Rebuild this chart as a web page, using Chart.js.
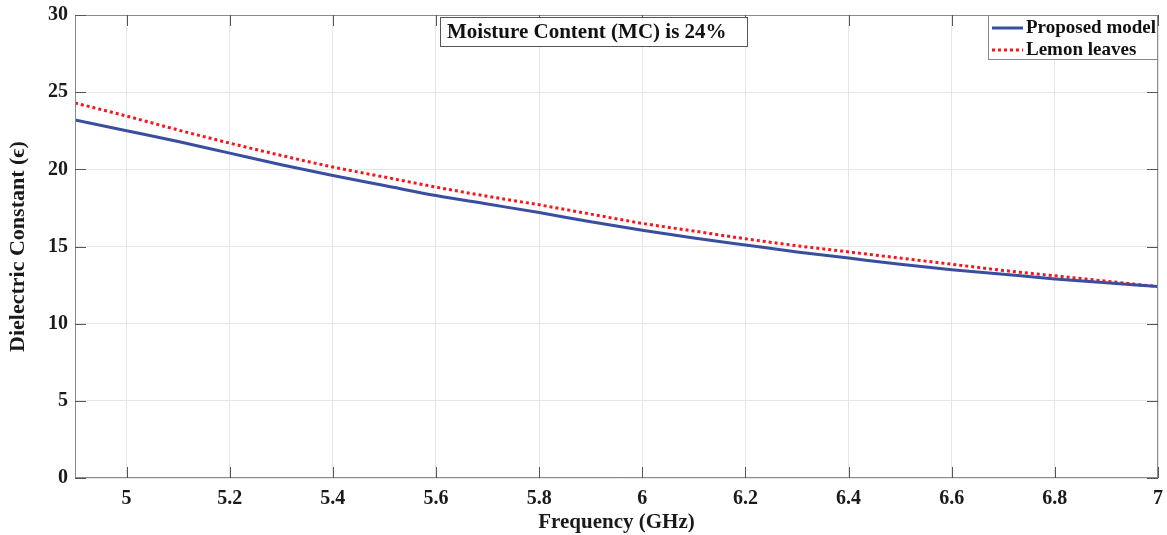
<!DOCTYPE html>
<html><head><meta charset="utf-8">
<script src="https://cdn.jsdelivr.net/npm/chart.js@4.4.0/dist/chart.umd.min.js"></script>
<style>html,body{margin:0;padding:0;background:#fff}#wrap{width:1167px;height:535px}</style>
</head><body><div id="wrap"><canvas id="c" width="1167" height="535"></canvas></div>
<script>
const frequency = [4.9,5.0,5.1,5.2,5.3,5.4,5.5,5.6,5.7,5.8,5.9,6.0,6.1,6.2,6.3,6.4,6.5,6.6,6.7,6.8,6.9,7.0];
const proposedModel = [23.2,22.5,21.8,21.05,20.3,19.6,18.95,18.3,17.75,17.2,16.6,16.05,15.55,15.1,14.65,14.25,13.85,13.5,13.2,12.9,12.65,12.4];
const lemonLeaves = [24.3,23.45,22.55,21.7,20.9,20.15,19.5,18.85,18.25,17.7,17.1,16.5,16.0,15.5,15.05,14.65,14.25,13.85,13.45,13.1,12.75,12.4];
const xTicks = [5,5.2,5.4,5.6,5.8,6,6.2,6.4,6.6,6.8,7];
const yTicks = [0,5,10,15,20,25,30];
const seriesNames = ['Proposed model','Lemon leaves'];
const titleText = 'Moisture Content (MC) is 24%';

const FONT = '"Liberation Serif","Times New Roman",serif';
const BLUE = '#3a4ea0', RED = '#f5161f';

const boxPlugin = {
  id:'box',
  afterDatasetsDraw(chart){
    const {ctx, chartArea:a, scales:{x,y}} = chart;
    ctx.save();
    ctx.strokeStyle = '#8a8a8a'; ctx.lineWidth = 1;
    ctx.strokeRect(a.left+0.5, a.top+0.5, a.right-a.left-1, a.bottom-a.top-1);
    ctx.strokeStyle = '#555';
    xTicks.forEach(v=>{const px=Math.round(x.getPixelForValue(v))+0.5;
      ctx.beginPath();ctx.moveTo(px,a.bottom);ctx.lineTo(px,a.bottom-11);ctx.stroke();
      ctx.beginPath();ctx.moveTo(px,a.top);ctx.lineTo(px,a.top+11);ctx.stroke();});
    yTicks.forEach(v=>{const py=Math.round(y.getPixelForValue(v))+0.5;
      ctx.beginPath();ctx.moveTo(a.left,py);ctx.lineTo(a.left+11,py);ctx.stroke();
      ctx.beginPath();ctx.moveTo(a.right,py);ctx.lineTo(a.right-11,py);ctx.stroke();});
    // title box
    ctx.font = 'bold 21px '+FONT;
    ctx.fillStyle='#fff'; ctx.fillRect(440,17,307,29);
    ctx.strokeStyle='#555'; ctx.strokeRect(440.5,17.5,307,29);
    ctx.fillStyle='#111'; ctx.textAlign='left'; ctx.textBaseline='middle';
    ctx.fillText(titleText, 447, 32.5);
    // legend box
    const lx=988, ly=15, lw=170, lh=45;
    ctx.fillStyle='#fff'; ctx.fillRect(lx,ly,lw,lh);
    ctx.strokeStyle='#8a8a8a'; ctx.strokeRect(lx+0.5,ly+0.5,lw-1,lh-1);
    ctx.font='bold 19px '+FONT; ctx.textAlign='left'; ctx.fillStyle='#111';
    ctx.lineWidth=3;
    ctx.strokeStyle=BLUE; ctx.setLineDash([]);
    ctx.beginPath(); ctx.moveTo(992,28); ctx.lineTo(1023,28); ctx.stroke();
    ctx.fillText(seriesNames[0], 1026, 28);
    ctx.strokeStyle=RED; ctx.setLineDash([3,3]);
    ctx.beginPath(); ctx.moveTo(992,50); ctx.lineTo(1023,50); ctx.stroke();
    ctx.setLineDash([]);
    ctx.fillText(seriesNames[1], 1026, 50);
    ctx.restore();
  }
};

new Chart(document.getElementById('c'), {
  type:'line',
  data:{datasets:[
    {label:seriesNames[0], data:frequency.map((f,i)=>({x:f,y:proposedModel[i]})), borderColor:BLUE, borderWidth:3, pointRadius:0, cubicInterpolationMode:'monotone', fill:false},
    {label:seriesNames[1], data:frequency.map((f,i)=>({x:f,y:lemonLeaves[i]})), borderColor:RED, borderWidth:3, borderDash:[3,3], pointRadius:0, cubicInterpolationMode:'monotone', fill:false}
  ]},
  options:{
    responsive:false, animation:false, devicePixelRatio:1,
    layout:{padding:{left:0,right:9,top:15,bottom:0}},
    plugins:{legend:{display:false}, tooltip:{enabled:false}},
    scales:{
      x:{type:'linear', min:4.9, max:7,
        afterBuildTicks(s){s.ticks = xTicks.map(v=>({value:v}));},
        afterFit(s){s.height=57; s.paddingLeft=0; s.paddingRight=0;},
        ticks:{color:'#1a1a1a', font:{family:FONT, size:20, weight:'bold'}, padding:9, maxRotation:0, callback:v=>String(Math.round(v*10)/10)},
        grid:{color:'#e6e6e6', drawTicks:false}, border:{display:false},
        title:{display:true, text:'Frequency (GHz)', color:'#1a1a1a', font:{family:FONT, size:21, weight:'bold'}, padding:{top:0,bottom:0}}
      },
      y:{min:0, max:30,
        afterBuildTicks(s){s.ticks = yTicks.map(v=>({value:v}));},
        afterFit(s){s.width=75; s.paddingTop=0; s.paddingBottom=0;},
        ticks:{color:'#1a1a1a', font:{family:FONT, size:20, weight:'bold'}, padding:7},
        grid:{color:'#e6e6e6', drawTicks:false}, border:{display:false},
        title:{display:true, text:'Dielectric Constant (ϵ)', color:'#1a1a1a', font:{family:FONT, size:22, weight:'bold'}, padding:{top:5,bottom:0}}
      }
    }
  },
  plugins:[boxPlugin]
});
</script></body></html>
